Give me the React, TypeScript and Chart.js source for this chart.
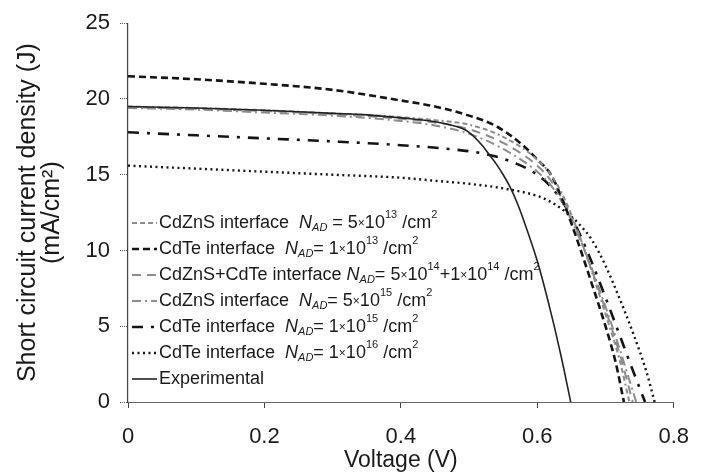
import React, { useEffect, useRef } from 'react';
import { Chart, registerables } from 'chart.js';

Chart.register(...registerables);

// ---------- data ----------
const xTickValues = [0, 0.2, 0.4, 0.6, 0.8];
const xTickLabels = ['0', '0.2', '0.4', '0.6', '0.8'];
const yTickValues = [0, 5, 10, 15, 20, 25];
const yTickLabels = ['0', '5', '10', '15', '20', '25'];

const xTitle = 'Voltage (V)';
const yTitle = ['Short circuit current density (J)', '(mA/cm²)'];

// CdZnS interface N_AD = 5x10^13
const v1 = [0, 0.1, 0.2, 0.3, 0.4, 0.45, 0.5, 0.55, 0.6, 0.62, 0.64, 0.66, 0.68, 0.7, 0.72, 0.735];
const j1 = [19.5, 19.4, 19.25, 19.05, 18.8, 18.6, 18.3, 17.5, 16.0, 15.0, 13.4, 11.2, 8.6, 5.8, 2.9, 0];
// CdTe interface N_AD = 1x10^13
const v2 = [0, 0.1, 0.2, 0.3, 0.4, 0.45, 0.5, 0.54, 0.58, 0.6, 0.62, 0.64, 0.66, 0.68, 0.7, 0.715, 0.727];
const j2 = [21.5, 21.3, 21.0, 20.6, 19.9, 19.5, 18.9, 18.2, 16.9, 16.0, 15.0, 13.0, 10.5, 7.8, 5.0, 2.6, 0];
// CdZnS+CdTe interface
const v3 = [0, 0.1, 0.2, 0.3, 0.4, 0.45, 0.5, 0.55, 0.6, 0.62, 0.64, 0.66, 0.68, 0.7, 0.72, 0.74];
const j3 = [19.45, 19.35, 19.2, 19.0, 18.7, 18.45, 18.0, 17.1, 15.6, 14.6, 13.1, 11.1, 8.7, 6.1, 3.3, 0];
// CdZnS interface N_AD = 5x10^15
const v4 = [0, 0.1, 0.2, 0.3, 0.4, 0.45, 0.5, 0.55, 0.6, 0.62, 0.64, 0.66, 0.68, 0.7, 0.72, 0.745];
const j4 = [19.4, 19.3, 19.1, 18.9, 18.55, 18.25, 17.7, 16.7, 15.2, 14.3, 12.9, 11.0, 8.8, 6.3, 3.6, 0];
// CdTe interface N_AD = 1x10^15
const v5 = [0, 0.1, 0.2, 0.3, 0.4, 0.47, 0.52, 0.56, 0.6, 0.62, 0.64, 0.66, 0.68, 0.7, 0.72, 0.74, 0.758];
const j5 = [17.8, 17.6, 17.4, 17.2, 16.95, 16.7, 16.4, 15.9, 15.0, 14.2, 13.0, 11.3, 9.2, 6.9, 4.5, 2.1, 0];
// CdTe interface N_AD = 1x10^16
const v6 = [0, 0.1, 0.2, 0.3, 0.4, 0.45, 0.5, 0.55, 0.6, 0.62, 0.64, 0.66, 0.68, 0.7, 0.72, 0.74, 0.76, 0.772];
const j6 = [15.6, 15.4, 15.2, 15.0, 14.8, 14.6, 14.4, 14.1, 13.6, 13.2, 12.6, 11.8, 10.7, 9.0, 6.9, 4.6, 2.0, 0];
// Experimental
const v7 = [0, 0.1, 0.2, 0.3, 0.35, 0.4, 0.45, 0.49, 0.5, 0.52, 0.53, 0.54, 0.55, 0.56, 0.57, 0.58, 0.6, 0.62, 0.635, 0.649];
const j7 = [19.5, 19.4, 19.25, 19.05, 18.95, 18.75, 18.5, 18.05, 17.8, 16.9, 16.3, 15.7, 15.0, 14.2, 13.2, 12.0, 9.3, 5.9, 3.0, 0];

const seriesV = [v1, v2, v3, v4, v5, v6, v7];
const seriesJ = [j1, j2, j3, j4, j5, j6, j7];

const seriesNames = [
  'CdZnS interface',
  'CdTe interface',
  'CdZnS+CdTe interface',
  'CdZnS interface',
  'CdTe interface',
  'CdTe interface',
  'Experimental',
];
// doping terms: [mantissa, exponent]
const dopingTerms: string[][][] = [
  [['5', '13']],
  [['1', '13']],
  [['5', '14'], ['1', '14']],
  [['5', '15']],
  [['1', '15']],
  [['1', '16']],
  [],
];

// ---------- styles ----------
const GRAY = '#8c8c8c';
const BLACK = '#141414';
const seriesStyles = [
  { color: GRAY, width: 2, dash: [5, 3, 5, 3, 5, 3, 2, 3] },
  { color: BLACK, width: 2.6, dash: [7, 4] },
  { color: GRAY, width: 2, dash: [9, 6] },
  { color: GRAY, width: 2, dash: [9, 4, 2, 4] },
  { color: BLACK, width: 2.6, dash: [11, 8, 3, 8] },
  { color: BLACK, width: 2.4, dash: [2, 3.5] },
  { color: '#222222', width: 1.6, dash: [] as number[] },
];

const FONT = '"Liberation Sans", Arial, Helvetica, sans-serif';

type Seg = { t: string; kind: 'n' | 'i' | 'sub' | 'sup' | 'x' };

function buildSegments(i: number): Seg[] {
  const segs: Seg[] = [];
  const terms = dopingTerms[i];
  if (!terms.length) {
    segs.push({ t: seriesNames[i], kind: 'n' });
    return segs;
  }
  segs.push({ t: seriesNames[i] + (terms.length > 1 ? ' ' : '  '), kind: 'n' });
  segs.push({ t: 'N', kind: 'i' });
  segs.push({ t: 'AD', kind: 'sub' });
  segs.push({ t: i === 0 ? ' = ' : '= ', kind: 'n' });
  terms.forEach((term, k) => {
    if (k > 0) segs.push({ t: '+', kind: 'n' });
    segs.push({ t: term[0], kind: 'n' });
    segs.push({ t: '×', kind: 'x' });
    segs.push({ t: '10', kind: 'n' });
    segs.push({ t: term[1], kind: 'sup' });
  });
  segs.push({ t: ' /cm', kind: 'n' });
  segs.push({ t: '2', kind: 'sup' });
  return segs;
}

const richLegend = {
  id: 'richLegend',
  afterDatasetsDraw(chart: any) {
    const ctx: CanvasRenderingContext2D = chart.ctx;
    const area = chart.chartArea;
    const top = 223;
    const gap = 26;
    ctx.save();
    seriesNames.forEach((_, i) => {
      const y = top + gap * i;
      const st = seriesStyles[i];
      // symbol
      ctx.beginPath();
      ctx.strokeStyle = st.color;
      ctx.lineWidth = st.width;
      ctx.setLineDash(st.dash);
      ctx.moveTo(area.left + 4, y);
      ctx.lineTo(area.left + 29, y);
      ctx.stroke();
      ctx.setLineDash([]);
      // text
      let x = area.left + 31;
      ctx.fillStyle = '#1a1a1a';
      ctx.textBaseline = 'middle';
      ctx.textAlign = 'left';
      buildSegments(i).forEach((s) => {
        let font = `18px ${FONT}`;
        let dy = 0;
        if (s.kind === 'i') font = `italic 18px ${FONT}`;
        if (s.kind === 'sub') { font = `italic 11px ${FONT}`; dy = 5; }
        if (s.kind === 'sup') { font = `11px ${FONT}`; dy = -8; }
        if (s.kind === 'x') { font = `12px ${FONT}`; dy = 1; }
        ctx.font = font;
        ctx.fillText(s.t, x, y + dy);
        x += ctx.measureText(s.t).width;
      });
    });
    ctx.restore();
  },
};

export default function App() {
  const canvasRef = useRef<HTMLCanvasElement | null>(null);

  useEffect(() => {
    document.body.style.margin = '0';
    const canvas = canvasRef.current;
    if (!canvas) return;
    const datasets = seriesNames.map((name, i) => ({
      label: name,
      data: seriesV[i].map((v, k) => ({ x: v, y: seriesJ[i][k] })),
      borderColor: seriesStyles[i].color,
      borderWidth: seriesStyles[i].width,
      borderDash: seriesStyles[i].dash,
      borderCapStyle: 'butt' as const,
      pointRadius: 0,
      fill: false,
      cubicInterpolationMode: 'monotone' as const,
      order: i === 6 ? 0 : 1,
    }));

    const chart = new Chart(canvas, {
      type: 'line',
      data: { datasets },
      options: {
        animation: false,
        responsive: false,
        devicePixelRatio: 1,
        layout: { padding: { left: 0, right: 16, top: 22, bottom: 0 } },
        plugins: {
          legend: { display: false },
          tooltip: { enabled: false },
        },
        scales: {
          x: {
            type: 'linear',
            min: 0,
            max: 0.8,
            afterBuildTicks: (s: any) => { s.ticks = xTickValues.map((v) => ({ value: v })); },
            afterFit: (s: any) => { s.height = 74; },
            ticks: {
              callback: (_v: any, idx: number) => xTickLabels[idx],
              color: '#1a1a1a',
              font: { family: FONT, size: 22 },
              padding: 16,
              maxRotation: 0,
              autoSkip: false,
            },
            grid: {
              drawOnChartArea: false,
              drawTicks: true,
              tickLength: 6,
              tickColor: '#444',
              tickWidth: 1,
            },
            border: { display: true, color: '#666', width: 1, dash: [1, 1] },
            title: {
              display: true,
              text: xTitle,
              color: '#1a1a1a',
              font: { family: FONT, size: 23, lineHeight: 1.05 },
              padding: { top: 0, bottom: 3 },
            },
          },
          y: {
            type: 'linear',
            min: 0,
            max: 25,
            afterBuildTicks: (s: any) => { s.ticks = yTickValues.map((v) => ({ value: v })); },
            afterFit: (s: any) => { s.width = 128; },
            ticks: {
              callback: (_v: any, idx: number) => yTickLabels[idx],
              color: '#1a1a1a',
              font: { family: FONT, size: 22 },
              padding: 10,
            },
            grid: {
              drawOnChartArea: false,
              drawTicks: true,
              tickLength: 8,
              tickColor: '#555',
              tickWidth: 1,
              tickBorderDash: [1, 1],
            },
            border: { display: true, color: '#444', width: 1.2 },
            title: {
              display: true,
              text: yTitle,
              color: '#1a1a1a',
              font: { family: FONT, size: 25, lineHeight: 0.96 },
              padding: { top: 16, bottom: 0 },
            },
          },
        },
      },
      plugins: [richLegend],
    });
    return () => chart.destroy();
  }, []);

  return (
    <div style={{ width: 705, height: 476, background: '#fff' }}>
      <canvas ref={canvasRef} width={705} height={476} style={{ width: 705, height: 476, display: 'block' }} />
    </div>
  );
}
